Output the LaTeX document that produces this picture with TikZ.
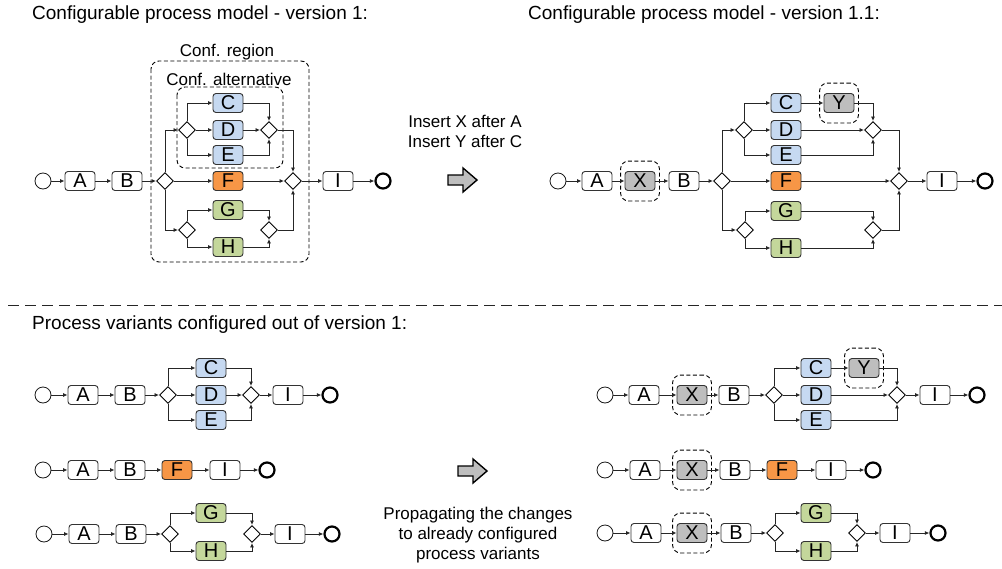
\documentclass[tikz,border=0pt]{standalone}
\usepackage{fontspec}
\setmainfont{Liberation Sans}
\usepackage{tikz}
\usetikzlibrary{fit}
\usetikzlibrary{arrows.meta}
\usetikzlibrary{shapes.geometric}

\definecolor{taskblue}{RGB}{198,217,241}
\definecolor{taskorange}{RGB}{247,150,70}
\definecolor{taskgreen}{RGB}{196,215,155}
\definecolor{taskgray}{RGB}{190,190,190}

\begin{document}
\begin{tikzpicture}[x=1pt,y=-1pt]
\tikzset{task/.style = {shape=rectangle,rounded corners=3pt,draw=black!80,line width=0.9pt,fill=white,minimum width=30pt,minimum height=19pt,inner sep=0pt,font=\fontsize{20}{20}\selectfont}}
\tikzset{bluetask/.style = {task,fill=taskblue}}
\tikzset{orangetask/.style = {task,fill=taskorange}}
\tikzset{greentask/.style = {task,fill=taskgreen}}
\tikzset{graytask/.style = {task,fill=taskgray}}
\tikzset{gw/.style = {shape=diamond,draw=black,line width=0.9pt,fill=white,minimum size=17pt,inner sep=0pt}}
\tikzset{start/.style = {shape=circle,draw=black!90,line width=0.8pt,fill=white,minimum size=16pt,inner sep=0pt}}
\tikzset{stop/.style = {shape=circle,draw=black,line width=2.2pt,minimum size=15pt,inner sep=0pt}}
\tikzset{edge/.style = {-{Latex[length=4.5pt,width=4pt]},draw=black!85,line width=0.85pt}}
\tikzset{conf/.style = {draw=black,line width=0.9pt,dash pattern=on 4pt off 2.5pt,rounded corners=8pt}}
\tikzset{ins/.style = {conf,inner xsep=4pt,inner ysep=10pt}}
\tikzset{txt/.style = {inner sep=0pt,font=\fontsize{17}{20}\selectfont}}
\tikzset{head/.style = {inner sep=0pt,anchor=west,font=\fontsize{19}{22}\selectfont}}
\tikzset{blockarrow/.style = {draw=black,line width=1.4pt,fill=taskgray,line join=miter}}
\useasboundingbox (0,0) rectangle (1002,568);

% titles
\node[head](title1) at (32,15) {Configurable process model - version 1:};
\node[head](title2) at (528,15) {Configurable process model - version 1.1:};
\node[head](title3) at (32,325) {Process variants configured out of version 1:};
\draw[draw=black!85,line width=0.8pt,dash pattern=on 11pt off 6pt] (8,305) -- (1002,305);

% version 1
\draw[conf] (151,61) rectangle (309,262);
\node[txt](regionlbl) at (227,52) {Conf. region};
\draw[conf] (177,87) rectangle (283,168);
\node[txt](altlbl) at (229,79) {Conf. alternative};
\node[start](ts) at (43,181) {};
\node[task](ta) at (80,181) {A};
\node[task](tb) at (127,181) {B};
\node[gw](tg1) at (165,181) {};
\node[gw](tg2) at (187,130) {};
\node[bluetask](tc) at (228,103) {C};
\node[bluetask](td) at (228,130) {D};
\node[bluetask](te) at (228,155) {E};
\node[gw](tg3) at (269,130) {};
\node[orangetask](tf) at (228,181) {F};
\node[gw](tg4) at (293,181) {};
\node[gw](tg5) at (187,230) {};
\node[greentask](tgg) at (228,210) {G};
\node[greentask](th) at (228,247) {H};
\node[gw](tg6) at (269,230) {};
\node[task](ti) at (338,181) {I};
\node[stop](tt) at (383,181) {};
\draw[edge] (ts) -- (ta);
\draw[edge] (ta) -- (tb);
\draw[edge] (tb) -- (tg1);
\draw[edge] (tg1.north) |- (tg2.west);
\draw[edge] (tg2.north) |- (tc.west);
\draw[edge] (tg2) -- (td);
\draw[edge] (tg2.south) |- (te.west);
\draw[edge] (tc.east) -| (tg3.north);
\draw[edge] (td) -- (tg3);
\draw[edge] (te.east) -| (tg3.south);
\draw[edge] (tg3.east) -| (tg4.north);
\draw[edge] (tg1) -- (tf);
\draw[edge] (tf) -- (tg4);
\draw[edge] (tg1.south) |- (tg5.west);
\draw[edge] (tg5.north) |- (tgg.west);
\draw[edge] (tg5.south) |- (th.west);
\draw[edge] (tgg.east) -| (tg6.north);
\draw[edge] (th.east) -| (tg6.south);
\draw[edge] (tg6.east) -| (tg4.south);
\draw[edge] (tg4) -- (ti);
\draw[edge] (ti) -- (tt);

% change
\node[txt,align=center](change) at (465,131) {Insert X after A\\Insert Y after C};
\draw[blockarrow] (448,175) -- (463,175) -- (463,168) -- (477,180) -- (463,192) -- (463,185) -- (448,185) -- cycle;

% version 1.1
\node[start](us) at (558,181) {};
\node[task](ua) at (597,181) {A};
\node[graytask](ux) at (640,181) {X};
\node[task](ub) at (684,181) {B};
\node[gw](ug1) at (722,181) {};
\node[gw](ug2) at (744,130) {};
\node[bluetask](uc) at (786,103) {C};
\node[graytask](uy) at (839,103) {Y};
\node[bluetask](ud) at (786,130) {D};
\node[bluetask](ue) at (786,155) {E};
\node[gw](ug3) at (873,130) {};
\node[orangetask](uf) at (786,181) {F};
\node[gw](ug4) at (899,181) {};
\node[gw](ug5) at (745,230) {};
\node[greentask](ugg) at (786,211) {G};
\node[greentask](uh) at (786,248) {H};
\node[gw](ug6) at (873,230) {};
\node[task](ui) at (942,181) {I};
\node[stop](ut) at (985,181) {};
\node[ins,fit=(ux)](uxbox) {};
\node[ins,fit=(uy)](uybox) {};
\draw[edge] (us) -- (ua);
\draw[edge] (ua) -- (ux);
\draw[edge] (ux) -- (ub);
\draw[edge] (ub) -- (ug1);
\draw[edge] (ug1.north) |- (ug2.west);
\draw[edge] (ug2.north) |- (uc.west);
\draw[edge] (ug2) -- (ud);
\draw[edge] (ug2.south) |- (ue.west);
\draw[edge] (uc) -- (uy);
\draw[edge] (uy.east) -| (ug3.north);
\draw[edge] (ud) -- (ug3);
\draw[edge] (ue.east) -| (ug3.south);
\draw[edge] (ug3.east) -| (ug4.north);
\draw[edge] (ug1) -- (uf);
\draw[edge] (uf) -- (ug4);
\draw[edge] (ug1.south) |- (ug5.west);
\draw[edge] (ug5.north) |- (ugg.west);
\draw[edge] (ug5.south) |- (uh.west);
\draw[edge] (ugg.east) -| (ug6.north);
\draw[edge] (uh.east) -| (ug6.south);
\draw[edge] (ug6.east) -| (ug4.south);
\draw[edge] (ug4) -- (ui);
\draw[edge] (ui) -- (ut);

% variant 1
\node[start](l1s) at (43,395) {};
\node[task](l1a) at (83,395) {A};
\node[task](l1b) at (130,395) {B};
\node[gw](l1g1) at (168,395) {};
\node[bluetask](l1c) at (211,368) {C};
\node[bluetask](l1d) at (211,395) {D};
\node[bluetask](l1e) at (211,420) {E};
\node[gw](l1g2) at (251,395) {};
\node[task](l1i) at (288,395) {I};
\node[stop](l1t) at (330,395) {};
\draw[edge] (l1s) -- (l1a);
\draw[edge] (l1a) -- (l1b);
\draw[edge] (l1b) -- (l1g1);
\draw[edge] (l1g1.north) |- (l1c.west);
\draw[edge] (l1g1) -- (l1d);
\draw[edge] (l1g1.south) |- (l1e.west);
\draw[edge] (l1c.east) -| (l1g2.north);
\draw[edge] (l1d) -- (l1g2);
\draw[edge] (l1e.east) -| (l1g2.south);
\draw[edge] (l1g2) -- (l1i);
\draw[edge] (l1i) -- (l1t);

% variant 2
\node[start](l2s) at (43,470) {};
\node[task](l2a) at (83,470) {A};
\node[task](l2b) at (130,470) {B};
\node[orangetask](l2f) at (177,470) {F};
\node[task](l2i) at (225,470) {I};
\node[stop](l2t) at (267,470) {};
\draw[edge] (l2s) -- (l2a);
\draw[edge] (l2a) -- (l2b);
\draw[edge] (l2b) -- (l2f);
\draw[edge] (l2f) -- (l2i);
\draw[edge] (l2i) -- (l2t);

% variant 3
\node[start](l3s) at (44,534) {};
\node[task](l3a) at (84,534) {A};
\node[task](l3b) at (131,534) {B};
\node[gw](l3g1) at (170,534) {};
\node[greentask](l3g) at (211,513) {G};
\node[greentask](l3h) at (211,551) {H};
\node[gw](l3g2) at (252,534) {};
\node[task](l3i) at (290,534) {I};
\node[stop](l3t) at (332,534) {};
\draw[edge] (l3s) -- (l3a);
\draw[edge] (l3a) -- (l3b);
\draw[edge] (l3b) -- (l3g1);
\draw[edge] (l3g1.north) |- (l3g.west);
\draw[edge] (l3g1.south) |- (l3h.west);
\draw[edge] (l3g.east) -| (l3g2.north);
\draw[edge] (l3h.east) -| (l3g2.south);
\draw[edge] (l3g2) -- (l3i);
\draw[edge] (l3i) -- (l3t);

% propagation
\draw[blockarrow] (458,466) -- (473,466) -- (473,459) -- (487,471) -- (473,483) -- (473,476) -- (458,476) -- cycle;
\node[txt,align=center](propagate) at (478,535) {Propagating the changes\\to already configured\\process variants};

% variant 1 migrated
\node[start](r1s) at (605,395) {};
\node[task](r1a) at (644,395) {A};
\node[graytask](r1x) at (692,395) {X};
\node[task](r1b) at (734,395) {B};
\node[gw](r1g1) at (774,395) {};
\node[bluetask](r1c) at (816,368) {C};
\node[graytask](r1y) at (864,368) {Y};
\node[bluetask](r1d) at (816,395) {D};
\node[bluetask](r1e) at (816,420) {E};
\node[gw](r1g2) at (897,395) {};
\node[task](r1i) at (935,395) {I};
\node[stop](r1t) at (977,395) {};
\node[ins,fit=(r1x)](r1xbox) {};
\node[ins,fit=(r1y)](r1ybox) {};
\draw[edge] (r1s) -- (r1a);
\draw[edge] (r1a) -- (r1x);
\draw[edge] (r1x) -- (r1b);
\draw[edge] (r1b) -- (r1g1);
\draw[edge] (r1g1.north) |- (r1c.west);
\draw[edge] (r1g1) -- (r1d);
\draw[edge] (r1g1.south) |- (r1e.west);
\draw[edge] (r1c) -- (r1y);
\draw[edge] (r1y.east) -| (r1g2.north);
\draw[edge] (r1d) -- (r1g2);
\draw[edge] (r1e.east) -| (r1g2.south);
\draw[edge] (r1g2) -- (r1i);
\draw[edge] (r1i) -- (r1t);

% variant 2 migrated
\node[start](r2s) at (605,470) {};
\node[task](r2a) at (645,470) {A};
\node[graytask](r2x) at (692,470) {X};
\node[task](r2b) at (735,470) {B};
\node[orangetask](r2f) at (782,470) {F};
\node[task](r2i) at (831,470) {I};
\node[stop](r2t) at (873,470) {};
\node[ins,fit=(r2x)](r2xbox) {};
\draw[edge] (r2s) -- (r2a);
\draw[edge] (r2a) -- (r2x);
\draw[edge] (r2x) -- (r2b);
\draw[edge] (r2b) -- (r2f);
\draw[edge] (r2f) -- (r2i);
\draw[edge] (r2i) -- (r2t);

% variant 3 migrated
\node[start](r3s) at (605,533) {};
\node[task](r3a) at (646,533) {A};
\node[graytask](r3x) at (692,533) {X};
\node[task](r3b) at (736,533) {B};
\node[gw](r3g1) at (775,533) {};
\node[greentask](r3g) at (816,513) {G};
\node[greentask](r3h) at (816,551) {H};
\node[gw](r3g2) at (857,533) {};
\node[task](r3i) at (895,533) {I};
\node[stop](r3t) at (938,533) {};
\node[ins,fit=(r3x)](r3xbox) {};
\draw[edge] (r3s) -- (r3a);
\draw[edge] (r3a) -- (r3x);
\draw[edge] (r3x) -- (r3b);
\draw[edge] (r3b) -- (r3g1);
\draw[edge] (r3g1.north) |- (r3g.west);
\draw[edge] (r3g1.south) |- (r3h.west);
\draw[edge] (r3g.east) -| (r3g2.north);
\draw[edge] (r3h.east) -| (r3g2.south);
\draw[edge] (r3g2) -- (r3i);
\draw[edge] (r3i) -- (r3t);
\end{tikzpicture}
\end{document}
